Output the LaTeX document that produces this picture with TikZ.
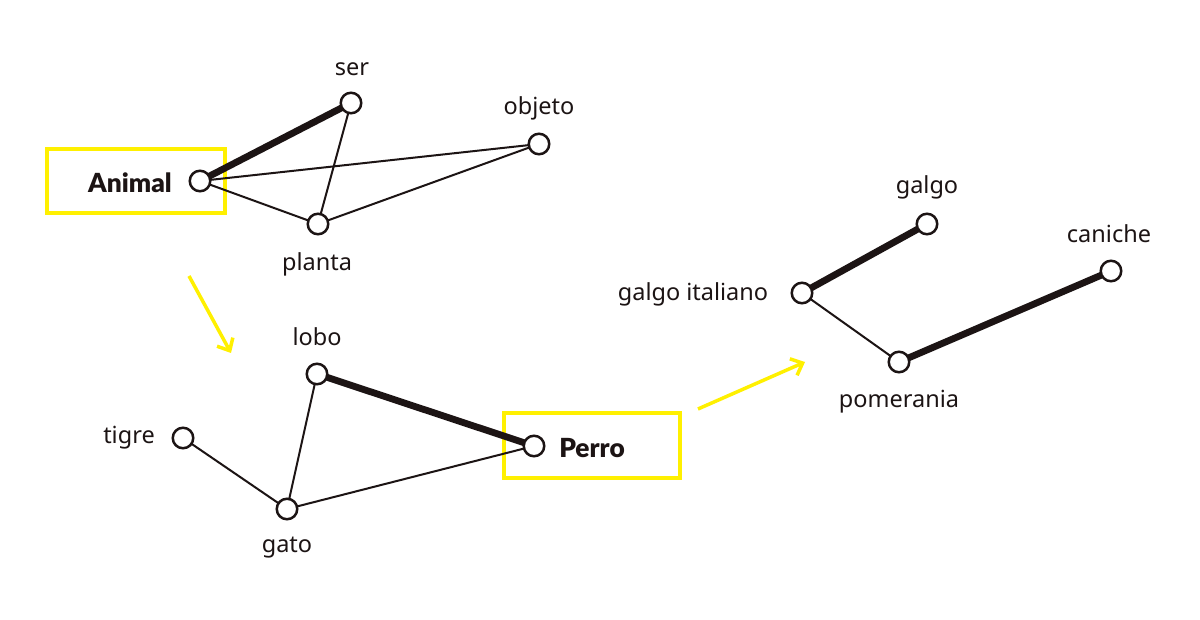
\documentclass[tikz,border=0pt]{standalone}
\usepackage{fontspec}
\setmainfont{Noto Sans}
\newfontfamily\heavy{Lato Black}
\usetikzlibrary{arrows.meta}
\definecolor{ink}{HTML}{1C1414}
\definecolor{hl}{HTML}{FFF000}
\begin{document}
\begin{tikzpicture}[x=1pt,y=-1pt,
  vert/.style={circle,draw=ink,fill=white,line width=2.5pt,minimum size=20.5pt,inner sep=0pt},
  lbl/.style={text=ink,font=\fontsize{23.5}{26}\selectfont,inner sep=0pt},
  blbl/.style={text=ink,font=\heavy\fontsize{26.3}{28}\selectfont,inner sep=0pt},
  thin/.style={draw=ink,line width=2pt},
  thick/.style={draw=ink,line width=6.8pt},
  hlbox/.style={draw=hl,line width=3.5pt},
  hlarrow/.style={draw=hl,line width=3.5pt,-{Straight Barb[length=10pt,width=18pt,line width=3.5pt]}}]
\useasboundingbox (0,0) rectangle (1200,620);
\fill[white] (0,0) rectangle (1200,620);
% highlight boxes
\draw[hlbox] (47,149) rectangle (225,213);
\draw[hlbox] (504,413) rectangle (680,478);
% vertices
\coordinate (animalC) at (200,181);
\coordinate (serC) at (351,103);
\coordinate (objetoC) at (539,144);
\coordinate (plantaC) at (318,224);
\coordinate (loboC) at (317,374);
\coordinate (tigreC) at (183,438);
\coordinate (gatoC) at (287,509);
\coordinate (perroC) at (534,446);
\coordinate (gitC) at (802,293);
\coordinate (galgoC) at (927,224);
\coordinate (canC) at (1111,271);
\coordinate (pomC) at (899,362);
% edges
\draw[thin] (animalC) -- (objetoC);
\draw[thin] (animalC) -- (plantaC);
\draw[thin] (serC) -- (plantaC);
\draw[thin] (plantaC) -- (objetoC);
\draw[thick] (animalC) -- (serC);
\draw[thin] (loboC) -- (gatoC);
\draw[thin] (tigreC) -- (gatoC);
\draw[thin] (gatoC) -- (perroC);
\draw[thick] (loboC) -- (perroC);
\draw[thin] (gitC) -- (pomC);
\draw[thick] (gitC) -- (galgoC);
\draw[thick] (pomC) -- (canC);
% vertex circles
\foreach \n in {animal,ser,objeto,planta,lobo,tigre,gato,perro,git,galgo,can,pom}
  \node[vert] (\n) at (\n C) {};
% labels
\node[blbl] (tAnimal) at (130,183) {Animal};
\node[lbl] (tser) at (352,69) {ser};
\node[lbl] (tobjeto) at (539,108) {objeto};
\node[lbl] (tplanta) at (317,264) {planta};
\node[lbl] (tlobo) at (317,337) {lobo};
\node[lbl] (ttigre) at (129,438) {tigre};
\node[lbl] (tgato) at (287,548) {gato};
\node[blbl] (tPerro) at (592,448) {Perro};
\node[lbl] (tgit) at (693,294) {galgo italiano};
\node[lbl] (tgalgo) at (927,187) {galgo};
\node[lbl] (tcan) at (1109,234) {caniche};
\node[lbl] (tpom) at (899,402) {pomerania};
% arrows
\coordinate (a1s) at (189,276);
\coordinate (a1e) at (231,353);
\coordinate (a2s) at (698,409);
\coordinate (a2e) at (805,362);
\draw[hlarrow] (a1s) -- (a1e);
\draw[hlarrow] (a2s) -- (a2e);
\end{tikzpicture}
\end{document}
